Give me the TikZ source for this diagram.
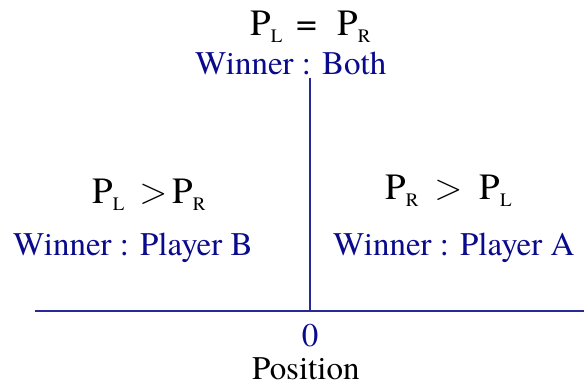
\documentclass[tikz,border=0pt]{standalone}
\usepackage{fontspec}
\usepackage{graphicx}
\setmainfont{TeX Gyre Termes}
\definecolor{navyb}{RGB}{10,10,140}
\definecolor{navyl}{RGB}{40,40,150}
\newcommand\Sb[1]{\raisebox{-7pt}{\fontsize{19}{19}\selectfont #1}}
\newcommand\Gt{\resizebox{28pt}{!}{\(>\)}}
\begin{document}
\begin{tikzpicture}[x=1pt,y=1pt,
  formula/.style={inner sep=0pt,anchor=base west,font=\fontsize{37}{40}\selectfont,text=black},
  bluetxt/.style={inner sep=0pt,anchor=base west,font=\fontsize{33}{36}\selectfont,text=navyb},
  axis/.style={draw=navyl,line width=1.4pt}]
\useasboundingbox (0,0) rectangle (584,-385);
\node[formula] (top) at (250,-36) {P\Sb{L}\hspace{14pt}=\hspace{20pt}P\Sb{R}};
\node[bluetxt] (both) at (195,-75) {Winner : Both};
\node[formula] (left) at (92,-204) {P\Sb{L}\hspace{15pt}\Gt\hspace{5pt}P\Sb{R}};
\node[bluetxt] (wb) at (13,-255) {Winner : Player B};
\node[formula] (right) at (385,-200) {P\Sb{R}\hspace{16pt}\Gt\hspace{17pt}P\Sb{L}};
\node[bluetxt] (wa) at (333,-255) {Winner : Player A};
\coordinate (vtop) at (310,-78);
\coordinate (origin) at (310,-311);
\coordinate (hl) at (35,-311);
\coordinate (hr) at (584,-311);
\draw[axis] (hl) -- (hr);
\draw[axis] (vtop) -- (origin);
\node[bluetxt,anchor=base] (zero) at (310,-346) {0};
\node[formula,anchor=base west,font=\fontsize{33}{36}\selectfont] (pos) at (252,-379) {Position};
\end{tikzpicture}
\end{document}
